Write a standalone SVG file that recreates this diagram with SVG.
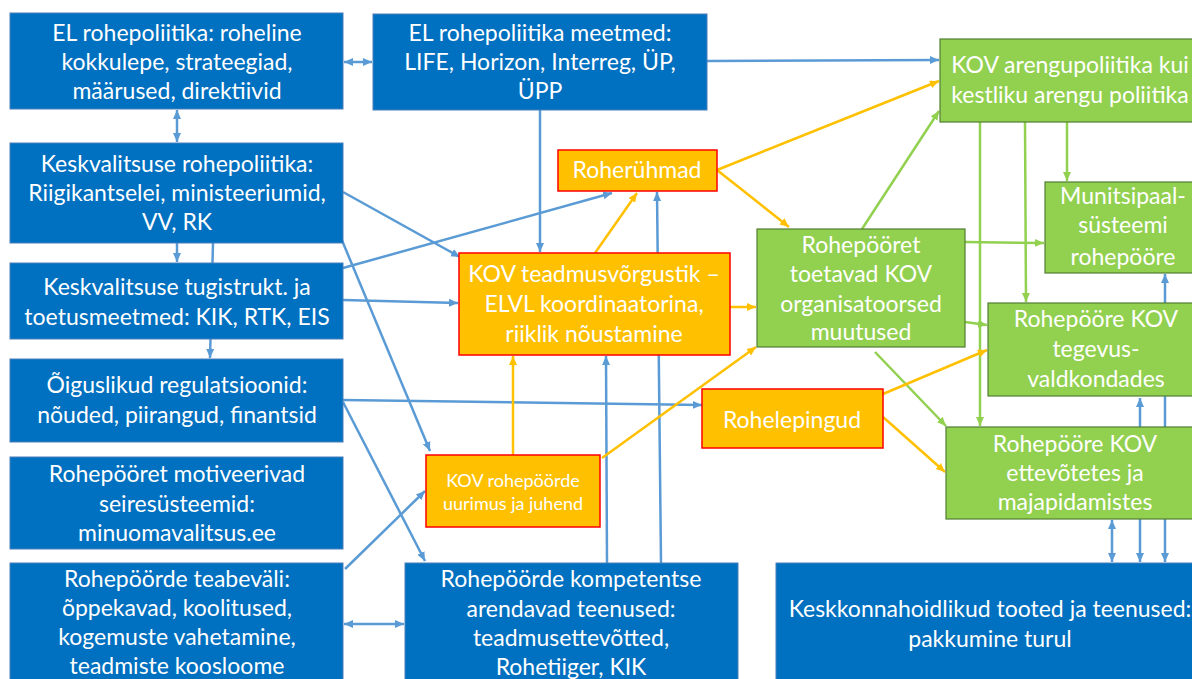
<svg xmlns="http://www.w3.org/2000/svg" width="1192" height="679" viewBox="0 0 1192 679">
<style>
.t{font-family:Lato,"Open Sans","Liberation Sans",sans-serif;font-size:23px;fill:#fff;text-anchor:middle}
.ts{font-size:18px}
.b{fill:#0070C0;stroke:#4A7EBB;stroke-width:1}
.g{fill:#92D050;stroke:#507E32;stroke-width:1.2}
.o{fill:#FFC000;stroke:#FF0000;stroke-width:1.5}
.cb{stroke:#5B9BD5;stroke-width:2.5;fill:none}
.co{stroke:#FFC000;stroke-width:2.5;fill:none}
.cg{stroke:#92D050;stroke-width:2.5;fill:none}
.ab{marker-end:url(#mb)}
.ao{marker-end:url(#mo)}
.ag{marker-end:url(#mg)}
.db{marker-start:url(#mb);marker-end:url(#mb)}
</style>
<defs>
<marker id="mb" markerUnits="userSpaceOnUse" markerWidth="10" markerHeight="10" refX="9" refY="5" orient="auto-start-reverse"><path d="M0,1 L9,5 L0,9 z" fill="#5B9BD5"/></marker>
<marker id="mo" markerUnits="userSpaceOnUse" markerWidth="10" markerHeight="10" refX="9" refY="5" orient="auto-start-reverse"><path d="M0,1 L9,5 L0,9 z" fill="#FFC000"/></marker>
<marker id="mg" markerUnits="userSpaceOnUse" markerWidth="10" markerHeight="10" refX="9" refY="5" orient="auto-start-reverse"><path d="M0,1 L9,5 L0,9 z" fill="#92D050"/></marker>
</defs>
<rect width="1192" height="679" fill="#fff"/>
<g id="connectors">
<line class="cb db" x1="344" y1="62" x2="372" y2="62"/>
<line class="cb db" x1="177" y1="110" x2="177" y2="142"/>
<line class="cb ab" x1="707" y1="61" x2="939" y2="60"/>
<line class="cb ab" x1="540" y1="110" x2="540" y2="252"/>
<line class="cb ab" x1="177" y1="243" x2="177" y2="262"/>
<line class="cb ab" x1="213" y1="243" x2="210" y2="358"/>
<line class="cb ab" x1="343" y1="192" x2="460" y2="257"/>
<line class="cb ab" x1="341" y1="238" x2="430" y2="451"/>
<line class="cb ab" x1="343" y1="268" x2="612" y2="193"/>
<line class="cb ab" x1="343" y1="300" x2="458" y2="303"/>
<line class="cb ab" x1="343" y1="400" x2="702" y2="405"/>
<line class="cb ab" x1="343" y1="402" x2="425" y2="561"/>
<line class="cb ab" x1="345" y1="569" x2="425" y2="491"/>
<line class="cb db" x1="344" y1="624" x2="404" y2="624"/>
<line class="cb ab" x1="607" y1="563" x2="606" y2="356"/>
<line class="cb ab" x1="661" y1="563" x2="657" y2="192"/>
<line class="cb db" x1="1112" y1="520" x2="1112" y2="562"/>
<line class="cb db" x1="1140" y1="398" x2="1140" y2="562"/>
<line class="cb db" x1="1165" y1="274" x2="1165" y2="562"/>
<line class="cg ag" x1="862" y1="229" x2="939" y2="111"/>
<line class="cg ag" x1="980" y1="122" x2="980" y2="426"/>
<line class="cg ag" x1="1025" y1="122" x2="1026" y2="302"/>
<line class="cg ag" x1="1067" y1="122" x2="1067" y2="181"/>
<line class="cg ag" x1="965" y1="242" x2="1044" y2="243"/>
<line class="cg ag" x1="965" y1="322" x2="987" y2="325"/>
<line class="cg ag" x1="875" y1="352" x2="946" y2="426"/>
<line class="co ao" x1="717" y1="170" x2="939" y2="81"/>
<line class="co ao" x1="717" y1="170" x2="789" y2="227"/>
<line class="co ao" x1="595" y1="253" x2="637" y2="193"/>
<line class="co ao" x1="730" y1="307" x2="756" y2="307"/>
<line class="co ao" x1="513" y1="455" x2="513" y2="356"/>
<line class="co ao" x1="602" y1="458" x2="756" y2="347"/>
<line class="co ao" x1="883" y1="394" x2="987" y2="350"/>
<line class="co ao" x1="883" y1="417" x2="945" y2="472"/>
</g>
<g id="n1"><rect class="b" x="10" y="13" width="333" height="96"/><text class="t" x="177" y="41">EL rohepoliitika: roheline</text><text class="t" x="177" y="70">kokkulepe, strateegiad,</text><text class="t" x="177" y="99">määrused, direktiivid</text></g>
<g id="n2"><rect class="b" x="373" y="14" width="334" height="96"/><text class="t" x="540" y="41">EL rohepoliitika meetmed:</text><text class="t" x="540" y="70">LIFE, Horizon, Interreg, ÜP,</text><text class="t" x="540" y="99">ÜPP</text></g>
<g id="n3"><rect class="g" x="940" y="39" width="262" height="83"/><text class="t" x="1070" y="73">KOV arengupoliitika kui</text><text class="t" x="1070" y="103">kestliku arengu poliitika</text></g>
<g id="n4"><rect class="b" x="10" y="143" width="333" height="100"/><text class="t" x="177" y="172">Keskvalitsuse rohepoliitika:</text><text class="t" x="177" y="201">Riigikantselei, ministeeriumid,</text><text class="t" x="177" y="230">VV, RK</text></g>
<g id="n5"><rect class="b" x="10" y="263" width="333" height="76"/><text class="t" x="177" y="295">Keskvalitsuse tugistrukt. ja</text><text class="t" x="177" y="325">toetusmeetmed: KIK, RTK, EIS</text></g>
<g id="n6"><rect class="b" x="10" y="359" width="333" height="83"/><text class="t" x="177" y="393">Õiguslikud regulatsioonid:</text><text class="t" x="177" y="423">nõuded, piirangud, finantsid</text></g>
<g id="n7"><rect class="b" x="10" y="457" width="333" height="92"/><text class="t" x="177" y="482">Rohepööret motiveerivad</text><text class="t" x="177" y="512">seiresüsteemid:</text><text class="t" x="177" y="541">minuomavalitsus.ee</text></g>
<g id="n8"><rect class="b" x="10" y="563" width="333" height="126"/><text class="t" x="177" y="587">Rohepöörde teabeväli:</text><text class="t" x="177" y="616">õppekavad, koolitused,</text><text class="t" x="177" y="645">kogemuste vahetamine,</text><text class="t" x="177" y="674">teadmiste koosloome</text></g>
<g id="n9"><rect class="o" x="558" y="150" width="159" height="41"/><text class="t" x="637" y="178">Roherühmad</text></g>
<g id="n10"><rect class="o" x="459" y="253" width="271" height="102"/><text class="t" x="594" y="282">KOV teadmusvõrgustik –</text><text class="t" x="594" y="312">ELVL koordinaatorina,</text><text class="t" x="594" y="342">riiklik nõustamine</text></g>
<g id="n11"><rect class="o" x="426" y="455" width="174" height="72"/><text class="t ts" x="513" y="487">KOV rohepöörde</text><text class="t ts" x="513" y="510">uurimus ja juhend</text></g>
<g id="n12"><rect class="b" x="405" y="563" width="333" height="126"/><text class="t" x="571" y="587">Rohepöörde kompetentse</text><text class="t" x="571" y="617">arendavad teenused:</text><text class="t" x="571" y="646">teadmusettevõtted,</text><text class="t" x="571" y="675">Rohetiiger, KIK</text></g>
<g id="n13"><rect class="g" x="757" y="229" width="208" height="118"/><text class="t" x="861" y="253">Rohepööret</text><text class="t" x="861" y="282">toetavad KOV</text><text class="t" x="861" y="312">organisatoorsed</text><text class="t" x="861" y="340">muutused</text></g>
<g id="n14"><rect class="g" x="1045" y="182" width="157" height="91"/><text class="t" x="1123" y="204">Munitsipaal-</text><text class="t" x="1123" y="233">süsteemi</text><text class="t" x="1123" y="265">rohepööre</text></g>
<g id="n15"><rect class="g" x="988" y="303" width="216" height="93"/><text class="t" x="1096" y="327">Rohepööre KOV</text><text class="t" x="1096" y="357">tegevus-</text><text class="t" x="1096" y="387">valdkondades</text></g>
<g id="n16"><rect class="o" x="702" y="389" width="181" height="59"/><text class="t" x="792" y="428">Rohelepingud</text></g>
<g id="n17"><rect class="g" x="946" y="427" width="258" height="92"/><text class="t" x="1075" y="452">Rohepööre KOV</text><text class="t" x="1075" y="481">ettevõtetes ja</text><text class="t" x="1075" y="510">majapidamistes</text></g>
<g id="n18"><rect class="b" x="776" y="563" width="428" height="126"/><text class="t" x="990" y="617">Keskkonnahoidlikud tooted ja teenused:</text><text class="t" x="990" y="647">pakkumine turul</text></g>
</svg>
